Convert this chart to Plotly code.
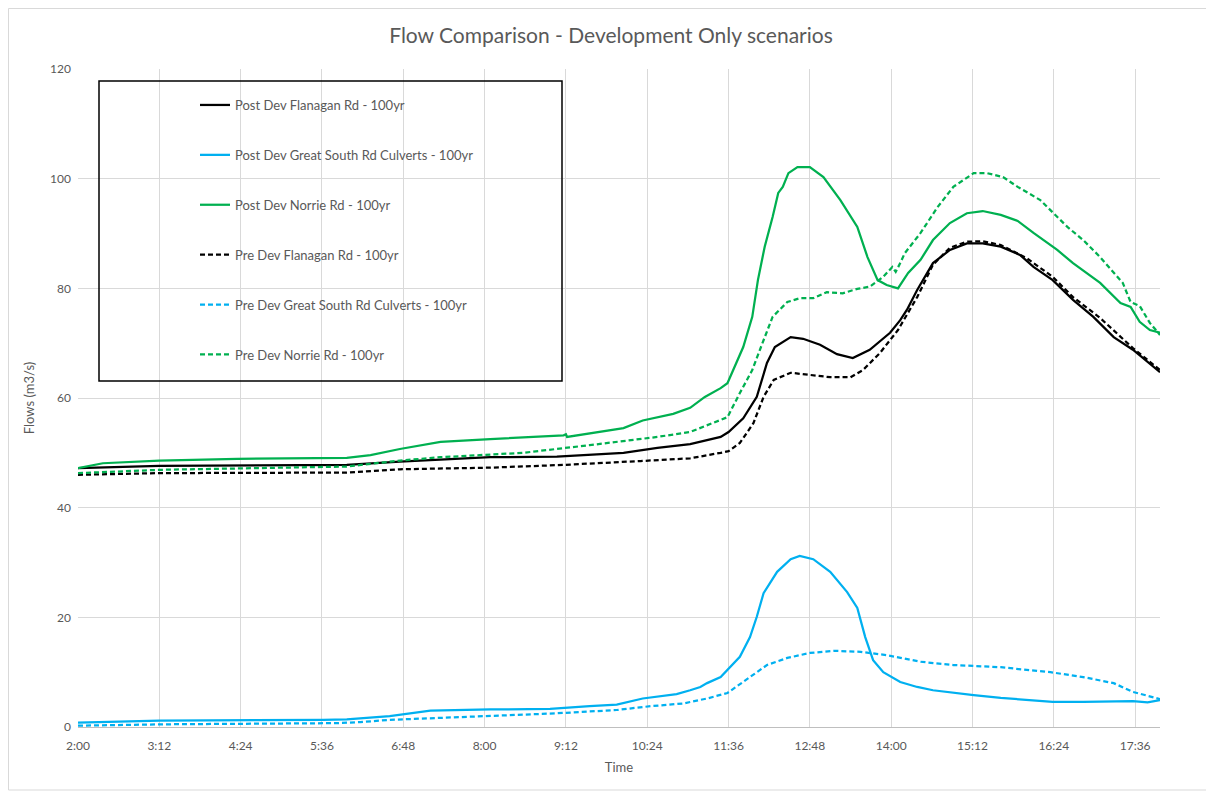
import plotly.graph_objects as go

# ---- Data ----
post_flanagan_t = ["2:00","3:12","5:58","6:45","8:05","9:04","10:03","10:33","11:02","11:29","11:36","11:49",
                   "12:01","12:10","12:17","12:31","12:42","12:57","13:12","13:26","13:41","13:59","14:08","14:14",
                   "14:23","14:37","14:52","15:07","15:21","15:37","15:54","16:06","16:23","16:41","16:59","17:17",
                   "17:34","17:58"]
post_flanagan_v = [47.2,47.6,47.8,48.4,49.2,49.3,50.0,50.9,51.6,52.9,53.8,56.3,
                   60.2,66.4,69.3,71.1,70.8,69.7,68.0,67.3,68.8,71.9,74.2,76.1,
                   79.7,84.6,87.0,88.2,88.2,87.6,86.1,83.9,81.5,77.9,74.8,71.1,
                   68.8,64.7]

post_gsr_t = ["2:00","3:12","5:37","5:58","6:36","7:12","8:05","8:58","9:33","9:57","10:20","10:50","11:02",
              "11:11","11:17","11:29","11:46","11:55","12:01","12:07","12:19","12:31","12:39","12:51","13:06",
              "13:21","13:30","13:37","13:44","13:53","14:08","14:23","14:37","14:55","15:13","15:37","16:00",
              "16:23","16:50","17:17","17:34","17:47","17:58"]
post_gsr_v = [0.8,1.15,1.3,1.4,2.0,3.0,3.2,3.3,3.8,4.1,5.2,6.0,6.7,
              7.3,8.0,9.1,12.8,16.4,20.1,24.4,28.3,30.6,31.2,30.6,28.3,
              24.6,21.7,16.4,12.2,10.0,8.2,7.3,6.7,6.2,5.8,5.3,4.9,
              4.6,4.6,4.6,4.7,4.5,4.9]

post_norrie_t = ["2:00","2:22","3:12","4:21","5:58","6:19","6:45","7:21","8:05","9:10","9:12","9:13","10:03",
                 "10:20","10:47","11:02","11:15","11:29","11:35","11:40","11:49","11:57","12:02","12:08","12:15",
                 "12:20","12:24","12:29","12:37","12:48","13:00","13:15","13:30","13:39","13:48","13:56","14:06",
                 "14:15","14:26","14:37","14:52","15:07","15:21","15:37","15:52","16:06","16:27","16:41","17:05",
                 "17:23","17:32","17:40","17:49","17:58"]
post_norrie_v = [47.2,48.1,48.6,48.9,49.1,49.6,50.7,52.0,52.5,53.2,53.4,52.9,54.5,
                 55.9,57.1,58.2,60.2,61.8,62.7,65.1,69.3,74.8,81.5,87.6,93.0,
                 97.4,98.5,101.0,102.1,102.1,100.3,96.1,91.2,85.7,81.5,80.6,80.0,
                 82.8,85.2,88.8,91.9,93.7,94.1,93.4,92.3,90.1,87.0,84.6,81.0,
                 77.3,76.6,73.9,72.4,71.9]

pre_flanagan_t = ["2:00","3:12","5:58","6:45","8:05","9:10","10:18","11:02","11:29","11:36","11:46","11:58",
                  "12:07","12:16","12:31","12:46","13:06","13:24","13:35","13:50","14:06","14:23","14:37","14:52",
                  "15:07","15:21","15:37","16:00","16:23","16:41","17:05","17:34","17:58"]
pre_flanagan_v = [46.0,46.3,46.4,47.0,47.3,47.8,48.5,49.0,50.0,50.3,51.8,55.4,
                  60.2,63.3,64.6,64.2,63.8,63.8,65.1,68.2,72.4,78.4,84.3,87.4,
                  88.5,88.6,87.9,85.5,82.1,78.4,74.6,69.1,65.1]

pre_gsr_t = ["2:00","3:21","5:49","6:10","6:36","7:12","8:05","9:04","9:57","10:27","10:56","11:17","11:35",
             "11:55","12:10","12:28","12:48","13:09","13:33","13:56","14:26","14:55","15:37","16:21","16:50",
             "17:17","17:34","17:58"]
pre_gsr_v = [0.25,0.5,0.7,0.9,1.3,1.6,2.0,2.5,3.1,3.8,4.3,5.2,6.2,
             9.1,11.3,12.6,13.5,13.9,13.7,13.1,11.9,11.3,10.9,10.0,9.1,
             8.0,6.4,5.1]

pre_norrie_t = ["2:00","3:12","5:58","6:36","6:45","7:21","8:34","9:33","10:33","11:02","11:29","11:35","11:46",
                "11:57","12:06","12:15","12:28","12:39","12:51","13:03","13:17","13:30","13:41","13:53","14:01",
                "14:04","14:08","14:12","14:26","14:41","14:55","15:13","15:25","15:39","15:52","16:12","16:36",
                "16:50","17:05","17:17","17:25","17:32","17:40","17:49","17:58"]
pre_norrie_v = [46.3,46.9,47.5,48.4,48.6,49.2,50.0,51.4,52.9,53.8,56.0,56.5,60.9,
                65.1,70.0,74.8,77.5,78.2,78.2,79.3,79.1,79.9,80.3,82.1,83.9,
                83.0,84.6,86.4,90.1,94.8,98.5,101.0,101.0,100.3,98.5,96.1,91.2,
                88.8,85.7,82.8,81.0,77.5,76.8,73.7,71.5]

series_names = ["Post Dev Flanagan Rd - 100yr", "Post Dev Great South Rd Culverts - 100yr",
                "Post Dev Norrie Rd - 100yr", "Pre Dev Flanagan Rd - 100yr",
                "Pre Dev Great South Rd Culverts - 100yr", "Pre Dev Norrie Rd - 100yr"]

DAY = "2020-01-01 "


def to_dt(tlist):
    out = []
    for t in tlist:
        h, m = t.split(":")
        out.append(f"{DAY}{int(h):02d}:{m}")
    return out


BLACK = "#000000"
BLUE = "#00b0f0"
GREEN = "#00b050"
DASH = "5px,3px"

specs = [
    (post_flanagan_t, post_flanagan_v, BLACK, "solid"),
    (post_gsr_t, post_gsr_v, BLUE, "solid"),
    (post_norrie_t, post_norrie_v, GREEN, "solid"),
    (pre_flanagan_t, pre_flanagan_v, BLACK, DASH),
    (pre_gsr_t, pre_gsr_v, BLUE, DASH),
    (pre_norrie_t, pre_norrie_v, GREEN, DASH),
]

fig = go.Figure()
for i, (t, v, c, d) in enumerate(specs):
    fig.add_trace(go.Scatter(
        x=to_dt(t), y=v, mode="lines", name=series_names[i],
        legendgroup=f"g{i}",
        line=dict(color=c, width=2.25, dash=d),
    ))

FONT = "Lato, 'Open Sans', 'Noto Sans', sans-serif"
GRAY = "#595959"

# page body has an 8px margin; figure is sized/offset to compensate
W, H = 1206, 786
L, T = 70, 61
PW, PH = 1082, 658


def px(xp):  # page x -> paper
    return (xp - 8 - L) / PW


def py(yp):  # page y -> paper
    return (T + PH - (yp - 8)) / PH


fig.update_layout(
    width=W, height=H,
    margin=dict(l=L, r=W - L - PW, t=T, b=H - T - PH),
    paper_bgcolor="white", plot_bgcolor="white",
    font=dict(family=FONT, color=GRAY, size=12),
    title=dict(text="Flow Comparison - Development Only scenarios",
               x=0.5, xanchor="center", y=1 - (36 - 8) / H, yanchor="middle",
               font=dict(size=21, color=GRAY, family=FONT)),
    showlegend=True,
    legend=dict(
        x=px(195), y=py(90), xanchor="left", yanchor="top",
        bgcolor="rgba(0,0,0,0)", borderwidth=0,
        font=dict(size=13, color=GRAY, family=FONT),
        tracegroupgap=30, traceorder="grouped",
    ),
    xaxis=dict(
        type="date",
        range=[DAY + "02:00", DAY + "17:58"],
        tick0=DAY + "02:00", dtick=72 * 60 * 1000,
        tickformat="%-H:%M",
        showgrid=True, gridcolor="#d9d9d9", gridwidth=1,
        showline=True, linecolor="#bfbfbf", linewidth=1,
        ticks="", ticklabelstandoff=8, tickfont=dict(size=12, color=GRAY),
        title=dict(text="Time", font=dict(size=13, color=GRAY), standoff=10),
        zeroline=False,
    ),
    yaxis=dict(
        range=[0, 120], dtick=20, tick0=0,
        showgrid=True, gridcolor="#d9d9d9", gridwidth=1,
        showline=False, ticks="", zeroline=False, ticklabelstandoff=6,
        tickfont=dict(size=12, color=GRAY),
        title=dict(text="Flows (m3/s)", font=dict(size=13, color=GRAY), standoff=12),
    ),
    shapes=[
        # legend box
        dict(type="rect", xref="paper", yref="paper",
             x0=px(99), x1=px(562), y0=py(381), y1=py(81),
             line=dict(color="#000000", width=1.5), fillcolor="rgba(0,0,0,0)", layer="above"),
        # chart area border
        dict(type="rect", xref="paper", yref="paper",
             x0=px(8.5), x1=px(1209), y0=py(790), y1=py(8.5),
             line=dict(color="#d9d9d9", width=1), fillcolor="rgba(0,0,0,0)", layer="below"),
    ],
)

fig.write_html("out.html")
